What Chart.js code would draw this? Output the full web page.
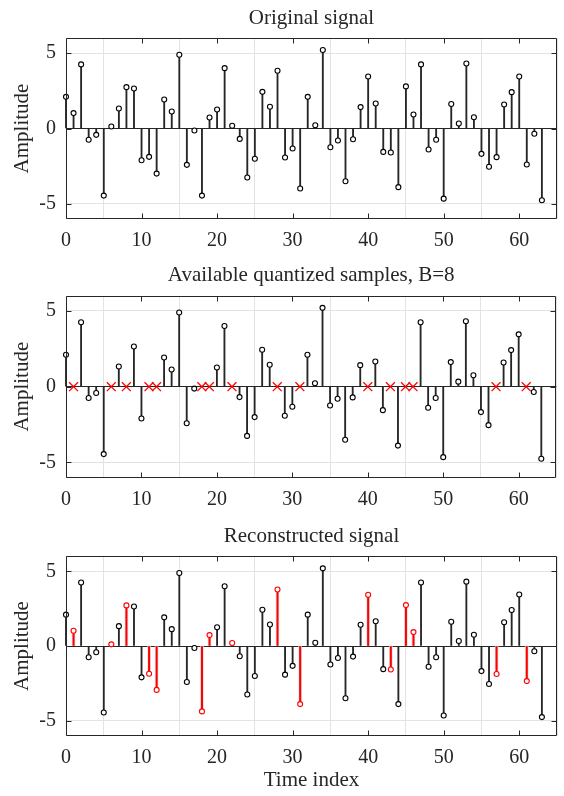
<!DOCTYPE html>
<html>
<head>
<meta charset="utf-8">
<script src="https://cdn.jsdelivr.net/npm/chart.js@4.4.1/dist/chart.umd.min.js"></script>
<style>
  html, body { margin: 0; padding: 0; background: #fff; }
  #page { position: relative; width: 564px; height: 796px; }
  .panel { position: absolute; left: 0; width: 564px; }
</style>
</head>
<body>
<div id="page">
  <div class="panel" style="top:0;height:258px"><canvas id="origChart"></canvas></div>
  <div class="panel" style="top:258px;height:258px"><canvas id="quantChart"></canvas></div>
  <div class="panel" style="top:516px;height:280px"><canvas id="reconChart"></canvas></div>
</div>
<script>
// signal samples, n = 0..63
const original = [
  2.10, 1.02, 4.25, -0.75, -0.42, -4.45, 0.13, 1.33, 2.74, 2.65,
  -2.10, -1.88, -2.99, 1.92, 1.13, 4.89, -2.41, -0.13, -4.45, 0.73,
  1.26, 4.00, 0.18, -0.69, -3.25, -2.01, 2.43, 1.44, 3.83, -1.92,
  -1.33, -3.98, 2.10, 0.22, 5.20, -1.24, -0.80, -3.50, -0.71, 1.42,
  3.45, 1.66, -1.55, -1.59, -3.89, 2.79, 0.93, 4.25, -1.39, -0.75,
  -4.65, 1.62, 0.33, 4.31, 0.75, -1.68, -2.54, -1.90, 1.59, 2.41,
  3.45, -2.39, -0.35, -4.76
];
// samples that were lost
const missingIdx = [1, 6, 8, 11, 12, 18, 19, 22, 28, 31, 40, 43, 45, 46, 57, 61];
// recovered values at the lost positions
const reconstructed = [1.02, 0.11, 2.72, -1.86, -2.94, -4.38, 0.73, 0.20, 3.78, -3.89, 3.43, -1.57, 2.74, 0.93, -1.88, -2.35];
const xTicks = [0, 10, 20, 30, 40, 50, 60];
const yTicks = [-5, 0, 5];

const FONT = "'Liberation Serif', 'Times New Roman', serif";
const INK = '#262626';

const allPts = original.map((v, i) => ({ x: i, y: v }));
const keptPts = allPts.filter(p => !missingIdx.includes(p.x));
const lostPts = missingIdx.map(i => ({ x: i, y: 0 }));
const recPts = missingIdx.map((i, k) => ({ x: i, y: reconstructed[k] }));

function stems(points, color, width) {
  return { type: 'bar', data: points, backgroundColor: color, barThickness: width, grouped: false, order: 3, clip: false };
}
function heads(points, color) {
  return {
    type: 'line', data: points, showLine: false, order: 1, clip: false,
    pointStyle: 'circle', pointRadius: 2.5, pointBorderWidth: 1.1,
    pointBorderColor: color, pointBackgroundColor: '#fff'
  };
}
function crosses(points) {
  return {
    type: 'line', data: points, showLine: false, order: 0, clip: false,
    pointStyle: 'crossRot', pointRadius: 6.3, pointBorderWidth: 1.3,
    pointBorderColor: '#ff0000'
  };
}

// box around the axes with inward ticks on every side
const axesBox = {
  id: 'axesBox',
  afterDatasetsDraw(chart) {
    const { ctx, chartArea: a, scales: { x, y } } = chart;
    const L = Math.round(a.left) + 0.5, R = Math.round(a.right) - 0.5;
    const T = Math.round(a.top) + 0.5, B = Math.round(a.bottom) - 0.5;
    ctx.save();
    ctx.strokeStyle = INK;
    ctx.lineWidth = 1;
    ctx.beginPath();
    x.ticks.forEach(t => {
      const px = Math.round(x.getPixelForValue(t.value)) + 0.5;
      ctx.moveTo(px, B); ctx.lineTo(px, B - 5);
      ctx.moveTo(px, T); ctx.lineTo(px, T + 5);
    });
    y.ticks.forEach(t => {
      const py = Math.round(y.getPixelForValue(t.value)) + 0.5;
      ctx.moveTo(L, py); ctx.lineTo(L + 5, py);
      ctx.moveTo(R, py); ctx.lineTo(R - 5, py);
    });
    ctx.rect(L, T, R - L, B - T);
    ctx.stroke();
    ctx.restore();
  }
};

function makeChart(id, titleText, titlePad, xHeight, datasets, xTitle) {
  return new Chart(document.getElementById(id), {
    type: 'bar',
    data: { datasets },
    plugins: [axesBox],
    options: {
      responsive: true,
      maintainAspectRatio: false,
      animation: false,
      layout: { padding: { left: 0, right: 7, top: 0, bottom: 0 } },
      plugins: {
        legend: { display: false },
        tooltip: { enabled: false },
        title: {
          display: true,
          text: titleText,
          fullSize: false,
          color: INK,
          font: { family: FONT, size: 21, weight: 'normal' },
          padding: { top: titlePad, bottom: 7.4 }
        }
      },
      scales: {
        x: {
          type: 'linear',
          min: 0,
          max: 65,
          offset: false,
          afterBuildTicks: s => { s.ticks = xTicks.map(v => ({ value: v })); },
          afterFit: s => { s.height = xHeight; },
          grid: { color: '#e3e3e3', drawTicks: false },
          border: { display: false },
          ticks: { color: INK, padding: 10, maxRotation: 0, font: { family: FONT, size: 20 } },
          title: xTitle ? {
            display: true, text: xTitle, color: INK,
            font: { family: FONT, size: 21 }, padding: { top: 0, bottom: 3.4 }
          } : { display: false }
        },
        y: {
          min: -6,
          max: 6,
          afterBuildTicks: s => { s.ticks = yTicks.map(v => ({ value: v })); },
          afterFit: s => { s.width = 66; },
          grid: {
            drawTicks: false,
            color: c => (c.tick && c.tick.value === 0 ? INK : '#e3e3e3')
          },
          border: { display: false },
          ticks: { color: INK, padding: 10, font: { family: FONT, size: 20 } },
          title: {
            display: true, text: 'Amplitude', color: INK,
            font: { family: FONT, size: 21 }, padding: { top: 9.4, bottom: 0 }
          }
        }
      }
    }
  });
}

makeChart('origChart', 'Original signal', 5.4, 39, [
  stems(allPts, INK, 1.2),
  heads(allPts, '#000')
]);

makeChart('quantChart', 'Available quantized samples, B=8', 5.1, 38.4, [
  stems(keptPts, INK, 1.2),
  heads(keptPts, '#000'),
  crosses(lostPts)
]);

// reconstructed stems sit on a faint grey band
makeChart('reconChart', 'Reconstructed signal', 7.8, 60.4, [
  stems(keptPts, INK, 1.2),
  heads(keptPts, '#000'),
  Object.assign(stems(recPts, '#e2e2e2', 3), { order: 4 }),
  Object.assign(stems(recPts, '#ff0000', 1.4), { order: 2 }),
  heads(recPts, '#ff0000')
], 'Time index');
</script>
</body>
</html>
